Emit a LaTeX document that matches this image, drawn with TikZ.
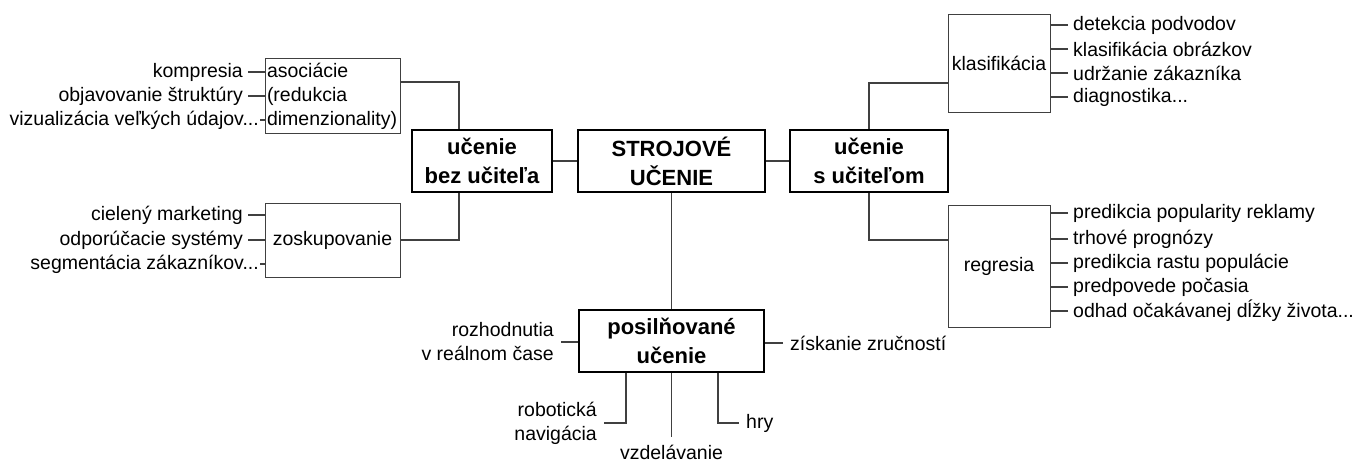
\documentclass[tikz,border=0pt]{standalone}
\usepackage{fontspec}
\setmainfont{Liberation Sans}
\usetikzlibrary{positioning}
\definecolor{linegray}{RGB}{64, 64, 64}

\begin{document}
\begin{tikzpicture}[x=1pt, y=-1pt,
    every node/.style={font=\fontsize{19.5}{24}\selectfont, inner sep=0pt},
    mainbox/.style={draw, line width=2.2pt, font=\fontsize{22}{29}\selectfont\bfseries, align=center, minimum height=62pt},
    subbox/.style={draw=linegray, line width=1pt},
    conn/.style={draw=linegray, line width=1.1pt},
    itemL/.style={anchor=east, inner xsep=5pt},
    itemR/.style={anchor=west, inner xsep=5pt}]
    \useasboundingbox (0,0) rectangle (1353,466);

    % hlavne uzly
    \node[mainbox, minimum width=140pt] (bez) at (482,161) {učenie\\bez učiteľa};
    \node[mainbox, minimum width=187pt] (ml) at (671.5,161) {STROJOVÉ\\UČENIE};
    \node[mainbox, minimum width=158pt] (suc) at (869,161) {učenie\\s učiteľom};
    \node[mainbox, minimum width=185pt] (pos) at (671.5,341) {posilňované\\učenie};
    \draw[conn] (bez) -- (ml);
    \draw[conn] (ml) -- (suc);
    \draw[conn] (ml) -- (pos);

    % ucenie bez ucitela
    \node[subbox, minimum width=135pt, minimum height=75pt, text width=131pt, align=left] (asoc) at (332.5,96) {asociácie\\(redukcia\\dimenzionality)};
    \node[subbox, minimum width=135pt, minimum height=74pt] (zosk) at (332.5,240) {zoskupovanie};
    \draw[conn] (asoc.east |- 0,82) -| (bez.north -| 459,0);
    \draw[conn] (zosk.east |- 0,240) -| (bez.south -| 459,0);

    \node[itemL] (komp) at (248,72) {kompresia};
    \node[itemL] (objav) at (248,96) {objavovanie štruktúry};
    \node[itemL, inner xsep=1pt] (vizu) at (260,120) {vizualizácia veľkých údajov...};
    \foreach \n in {komp, objav, vizu}
        \draw[conn] (\n) -- (\n -| asoc.west);

    \node[itemL] (ciel) at (248,215) {cielený marketing};
    \node[itemL] (odpor) at (248,240) {odporúčacie systémy};
    \node[itemL, inner xsep=1pt] (segm) at (260,264) {segmentácia zákazníkov...};
    \foreach \n in {ciel, odpor, segm}
        \draw[conn] (\n) -- (\n -| zosk.west);

    % ucenie s ucitelom
    \node[subbox, minimum width=102pt, minimum height=98pt] (klas) at (999,63) {klasifikácia};
    \node[subbox, minimum width=102pt, minimum height=122pt] (regr) at (999,266) {regresia};
    \draw[conn] (suc.north) |- (klas.west |- 0,83);
    \draw[conn] (suc.south) |- (regr.west |- 0,240);

    \node[itemR] (podv) at (1068,25) {detekcia podvodov};
    \node[itemR] (obraz) at (1068,49) {klasifikácia obrázkov};
    \node[itemR] (udrz) at (1068,73) {udržanie zákazníka};
    \node[itemR] (diag) at (1068,97) {diagnostika...};
    \foreach \n in {podv, obraz, udrz, diag}
        \draw[conn] (\n) -- (\n -| klas.east);

    \node[itemR] (popul) at (1068,213) {predikcia popularity reklamy};
    \node[itemR] (trh) at (1068,239) {trhové prognózy};
    \node[itemR] (rast) at (1068,263) {predikcia rastu populácie};
    \node[itemR] (pocas) at (1068,287) {predpovede počasia};
    \node[itemR] (odhad) at (1068,311) {odhad očakávanej dĺžky života...};
    \foreach \n in {popul, trh, rast, pocas, odhad}
        \draw[conn] (\n) -- (\n -| regr.east);

    % posilnovane ucenie
    \node[anchor=east, inner xsep=7pt, align=right] (rozh) at (561,342) {rozhodnutia\\v reálnom čase};
    \node[anchor=west, inner xsep=7pt] (zruc) at (783,343) {získanie zručností};
    \draw[conn] (rozh) -- (rozh -| pos.west);
    \draw[conn] (zruc) -- (zruc -| pos.east);

    \node[anchor=east, inner xsep=7pt, align=right] (robot) at (604,423) {robotická\\navigácia};
    \node[anchor=west, inner xsep=7pt] (hry) at (739,423) {hry};
    \node[below=64pt of pos, inner ysep=8pt] (vzdel) {vzdelávanie};
    \draw[conn] (pos.south -| 626,0) |- (robot);
    \draw[conn] (pos.south -| 718,0) |- (hry);
    \draw[conn] (pos.south -| vzdel) -- (vzdel.north);
\end{tikzpicture}
\end{document}
